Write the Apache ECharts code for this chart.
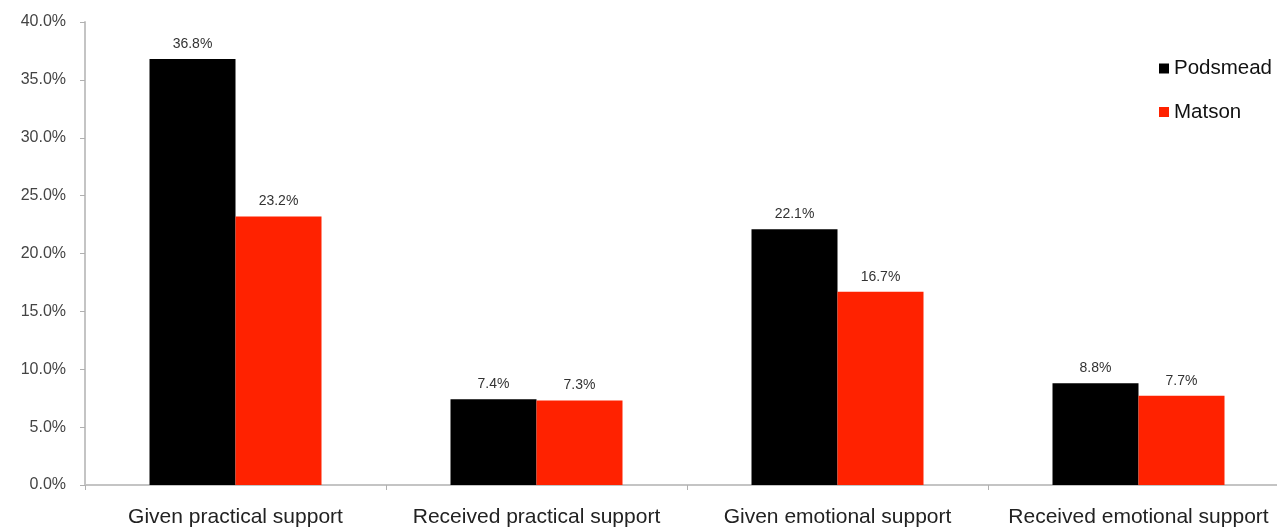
<!DOCTYPE html>
<html>
<head>
<meta charset="utf-8">
<script src="https://cdn.jsdelivr.net/npm/echarts@6/dist/echarts.min.js"></script>
<style>
  html, body { margin: 0; padding: 0; background: #fff; overflow: hidden; }
  /* slightly wider than the window: the last category runs past the right edge */
  #chart { width: 1289px; height: 528px; }
</style>
</head>
<body>
<div id="chart"></div>
<script>
const categories = ['Given practical support', 'Received practical support', 'Given emotional support', 'Received emotional support'];
const podsmead = [36.8, 7.4, 22.1, 8.8];
const matson = [23.2, 7.3, 16.7, 7.7];
const yTicks = { min: 0, max: 40, interval: 5 };

const font = '"Liberation Sans", Arial, Helvetica, sans-serif';
const chart = echarts.init(document.getElementById('chart'));

function barSeries(name, data, color) {
  return {
    name: name,
    type: 'bar',
    data: data,
    barWidth: 86,
    barGap: '0%',
    itemStyle: { color: color },
    label: {
      show: true,
      position: 'top',
      distance: 8,
      color: '#333',
      fontSize: 14,
      fontFamily: font,
      formatter: p => p.value.toFixed(1) + '%'
    }
  };
}

chart.setOption({
  animation: false,
  textStyle: { fontFamily: font },
  grid: { left: 85, top: 22, bottom: 42, right: 0, containLabel: false },
  legend: {
    orient: 'vertical',
    left: 1159,
    top: 58,
    padding: 0,
    itemWidth: 10,
    itemHeight: 10,
    itemGap: 22.5,
    icon: 'rect',
    textStyle: { fontSize: 20.5, color: '#111', fontFamily: font },
    data: ['Podsmead', 'Matson']
  },
  xAxis: {
    type: 'category',
    data: categories,
    axisLine: { lineStyle: { color: '#c4c4c4', width: 2 } },
    axisTick: { show: true, length: 5, lineStyle: { color: '#b0b0b0' } },
    axisLabel: { color: '#222', fontSize: 21, margin: 22, fontFamily: font, interval: 0 }
  },
  yAxis: {
    type: 'value',
    min: yTicks.min,
    max: yTicks.max,
    interval: yTicks.interval,
    splitLine: { show: false },
    axisLine: { show: true, lineStyle: { color: '#c4c4c4', width: 2 } },
    axisTick: { show: true, length: 5, lineStyle: { color: '#b0b0b0' } },
    axisLabel: { color: '#444', fontSize: 16, margin: 19, fontFamily: font, formatter: v => v.toFixed(1) + '%' }
  },
  series: [
    barSeries('Podsmead', podsmead, '#000000'),
    barSeries('Matson', matson, '#ff2200')
  ]
});
</script>
</body>
</html>
